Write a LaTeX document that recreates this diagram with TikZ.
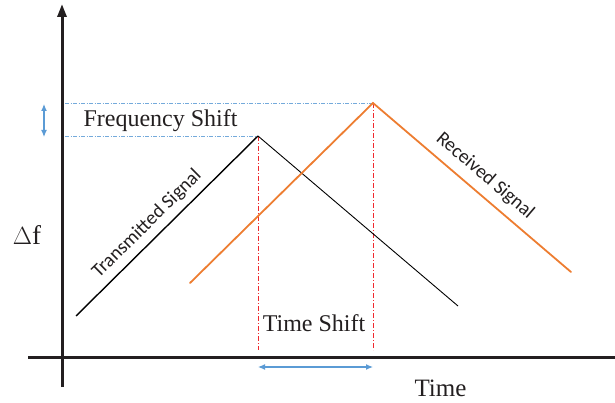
\documentclass[tikz,border=0pt]{standalone}
\usepackage{fontspec}
\setmainfont{Liberation Serif}
\newfontfamily\calib{Carlito}
\usetikzlibrary{arrows.meta}
\definecolor{axisblack}{HTML}{231F20}
\definecolor{sigorange}{HTML}{ED7D31}
\definecolor{guideblue}{HTML}{5B9BD5}
\definecolor{guidered}{HTML}{F0282D}
\tikzset{
  axisline/.style={line width=3pt, draw=axisblack},
  txsig/.style={line width=1.4pt, draw=black},
  rxsig/.style={line width=1.8pt, draw=sigorange},
  hguide/.style={line width=0.7pt, draw=guideblue!85, dash pattern=on 4pt off 1.5pt on 1pt off 1.5pt},
  vguide/.style={line width=0.8pt, draw=guidered, dash pattern=on 5pt off 2pt on 1pt off 2pt},
  measure/.style={line width=1.2pt, draw=guideblue, {Latex[length=7pt,width=6pt]}-{Latex[length=7pt,width=6pt]}},
  serlbl/.style={font=\fontsize{24}{26}\selectfont, text=axisblack, inner sep=0pt, anchor=base},
  sanlbl/.style={font=\calib\fontsize{19.5}{21}\selectfont, text=axisblack, inner sep=0pt}
}
\begin{document}
\begin{tikzpicture}[x=1pt,y=-1pt]
\useasboundingbox (0,0) rectangle (615,403);
% axes
\coordinate (ybot) at (62,387);
\coordinate (ytop) at (62,4);
\coordinate (xl) at (28,357);
\coordinate (xr) at (615,357);
\draw[axisline] (xl) -- (xr);
\draw[axisline, -{Triangle[length=13pt,width=9pt]}] (ybot) -- (ytop);
% signal points
\coordinate (t0) at (76,316);
\coordinate (tp) at (258,136);
\coordinate (t1) at (458,306);
\coordinate (r0) at (190,283);
\coordinate (rp) at (373,103);
\coordinate (r1) at (571,272);
% guide lines
\coordinate (hl1) at (65,103);
\coordinate (hl2) at (65,136);
\draw[hguide] (hl1) -- (rp);
\draw[hguide] (hl2) -- (tp);
\coordinate (vb1) at (258,350);
\coordinate (vb2) at (373,350);
\draw[vguide] (tp) -- (vb1);
\draw[vguide] (rp) -- (vb2);
% signals
\draw[txsig] (t0) -- (tp);
\draw[line width=0.9pt, draw=black] (tp) -- (t1);
\draw[rxsig, line cap=round] (r0) -- (rp) -- (r1);
% measures
\coordinate (fa) at (44,104);
\coordinate (fb) at (44,137);
\draw[measure] (fa) -- (fb);
\coordinate (ta) at (258,367);
\coordinate (tb) at (373,367);
\draw[measure] (ta) -- (tb);
% labels
\node[serlbl] (fs) at (160.5,126.5) {Frequency Shift};
\node[serlbl] (ts) at (314,331.5) {Time Shift};
\node[serlbl, font=\fontsize{25}{27}\selectfont] (tm) at (440.5,396.5) {Time};
\node[serlbl, font=\fontsize{27}{29}\selectfont] (df) at (27,244) {$\Delta$f};
\node[sanlbl, rotate=44.7] (tx) at (147,224) {Transmitted Signal};
\node[sanlbl, rotate=-40.5] (rx) at (485,176) {Received Signal};
\end{tikzpicture}
\end{document}
